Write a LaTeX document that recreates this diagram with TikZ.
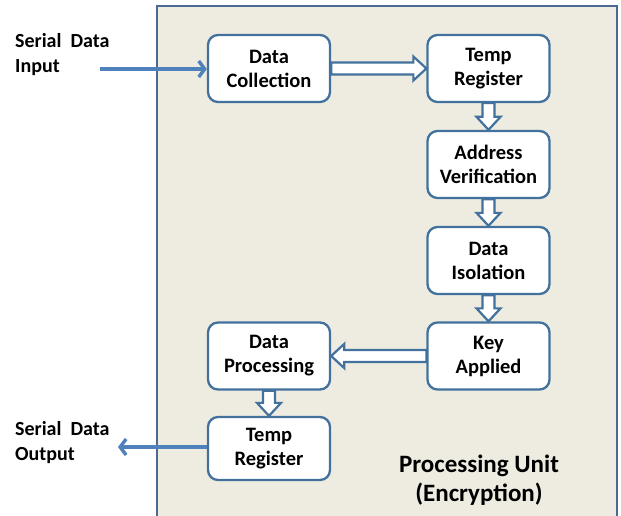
\documentclass[tikz,border=0pt]{standalone}
\usepackage{fontspec}
\setmainfont{Carlito}
\usetikzlibrary{arrows.meta,calc}
\definecolor{bgtan}{HTML}{EEECE1}
\definecolor{boxline}{HTML}{41719C}
\definecolor{outline}{HTML}{4A6A94}
\definecolor{arrowblue}{HTML}{4F81BD}
\newcommand\rblock[2]{\draw[blk] let \p1=(#1.east), \p2=(#2.west) in
  (\x1,\y1+6pt) -- (\x2-13pt,\y1+6pt) -- (\x2-13pt,\y1+12pt) -- (\x2,\y1) --
  (\x2-13pt,\y1-12pt) -- (\x2-13pt,\y1-6pt) -- (\x1,\y1-6pt) -- cycle;}
\newcommand\lblock[2]{\draw[blk] let \p1=(#1.west), \p2=(#2.east) in
  (\x1,\y1+6pt) -- (\x2+13pt,\y1+6pt) -- (\x2+13pt,\y1+12pt) -- (\x2,\y1) --
  (\x2+13pt,\y1-12pt) -- (\x2+13pt,\y1-6pt) -- (\x1,\y1-6pt) -- cycle;}
\newcommand\dblock[2]{\draw[blk] let \p1=(#1.south), \p2=(#2.north) in
  (\x1-6pt,\y1) -- (\x1-6pt,\y2+13pt) -- (\x1-12pt,\y2+13pt) -- (\x1,\y2) --
  (\x1+12pt,\y2+13pt) -- (\x1+6pt,\y2+13pt) -- (\x1+6pt,\y1) -- cycle;}
\begin{document}
\begin{tikzpicture}[x=1pt,y=-1pt,
  stepbox/.style={draw=boxline, line width=2.3pt, fill=white, rounded corners=10pt,
    minimum width=122pt, minimum height=67pt, align=center, inner sep=0pt,
    font=\bfseries\fontsize{20.5}{24}\selectfont},
  blk/.style={draw=boxline, line width=2.2pt, fill=white, line join=miter},
  lbl/.style={align=left, inner sep=0pt, font=\bfseries\fontsize{20}{25}\selectfont},
  sig/.style={draw=arrowblue, line width=3.6pt, -{Straight Barb[length=6pt,width=16pt,line width=3.4pt]}}]
\useasboundingbox (0,0) rectangle (621,516);
\fill[bgtan] (157,6) rectangle (617,516);
\draw[outline, line width=2.6pt] (157,516) -- (157,6) -- (617,6) -- (617,516);

\node[stepbox] (dc)  at (269,68.5)  {Data\\Collection};
\node[stepbox] (tr1) at (488.5,68.5) {Temp\\Register};
\node[stepbox] (av)  at (488.5,164.5) {Address\\Verification};
\node[stepbox] (di)  at (488.5,260.5) {Data\\Isolation};
\node[stepbox] (ka)  at (488.5,356) {Key\\Applied};
\node[stepbox] (dp)  at (269,356) {Data\\Processing};
\node[stepbox, minimum height=63pt] (tr2) at (269,448.5) {Temp\\Register};

\node[anchor=center, align=center, inner sep=0pt, font=\bfseries\fontsize{25}{29}\selectfont] (pu) at (479,480) {Processing Unit\\(Encryption)};

\node[lbl, anchor=north west] (inlbl) at (15,33) {Serial\hspace{0.45em}Data\\Input};
\node[lbl, anchor=north west] (outlbl) at (15,421) {Serial\hspace{0.45em}Data\\Output};

\coordinate (inStart) at (100,69);
\coordinate (outEnd) at (118,447);

\draw[sig] (inStart) -- (dc.west |- inStart);
\draw[sig] (tr2.west |- outEnd) -- (outEnd);

\rblock{dc}{tr1}
\dblock{tr1}{av}
\dblock{av}{di}
\dblock{di}{ka}
\lblock{ka}{dp}
\dblock{dp}{tr2}
\end{tikzpicture}
\end{document}
